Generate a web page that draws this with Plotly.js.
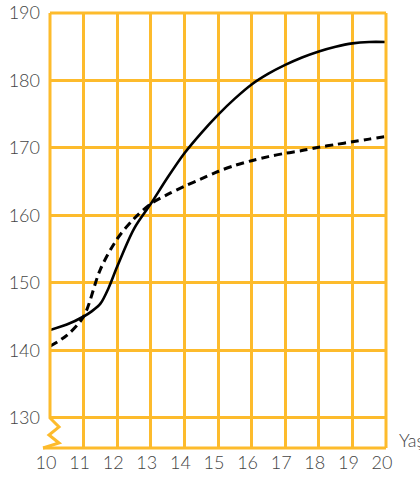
<!DOCTYPE html>
<html>
<head>
<meta charset="utf-8">
<script src="https://cdn.plot.ly/plotly-3.0.1.min.js"></script>
<style>html,body{margin:0;padding:0;background:#fff;}#chart{width:420px;height:479px;}</style>
</head>
<body>
<div id="chart"></div>
<script>
const solidAges = [10,10.5,11,11.25,11.5,11.75,12,12.5,13,13.5,14,14.5,15,15.5,16,16.5,17,17.5,18,18.5,19,19.5,20];
const solidSeries = [143.0,143.8,145.0,145.8,146.9,149.3,152.4,158.0,161.7,165.6,169.2,172.2,174.9,177.3,179.4,181.0,182.3,183.4,184.3,185.0,185.5,185.7,185.7];
const dashedAges = [10,10.5,11,11.5,12,12.5,13,13.5,14,14.5,15,15.5,16,16.5,17,17.5,18,18.5,19,19.5,20];
const dashedSeries = [140.6,142.2,145.0,152.0,156.5,159.5,161.7,163.1,164.3,165.4,166.5,167.4,168.1,168.7,169.2,169.6,170.1,170.5,170.9,171.3,171.7];
const xTicks = [10,11,12,13,14,15,16,17,18,19,20];
const yTicks = [130,140,150,160,170,180,190];
const xAxisLabel = 'Yaş';

const grid = '#FDBB2C';
const font = {family: 'Lato, "Open Sans", sans-serif', size: 18, color: '#444444', weight: 300};

const data = [
  {x: dashedAges, y: dashedSeries, type: 'scatter', mode: 'lines',
   line: {color: '#000', width: 3, dash: '8px,5px', shape: 'spline', smoothing: 0.9}, hoverinfo: 'skip'},
  {x: solidAges, y: solidSeries, type: 'scatter', mode: 'lines',
   line: {color: '#000', width: 2.6, shape: 'spline', smoothing: 0.9}, hoverinfo: 'skip'}
];

const layout = {
  width: 420, height: 479,
  margin: {l: 50, r: 34, t: 13, b: 31},
  paper_bgcolor: '#fff', plot_bgcolor: '#fff',
  showlegend: false,
  font: font,
  xaxis: {range: [10, 20], tickvals: xTicks, ticktext: xTicks.map(String),
          showgrid: true, gridcolor: grid, gridwidth: 3, zeroline: false, showline: false,
          ticks: '', ticklabelshift: -4, ticklabelstandoff: 2, tickfont: font, fixedrange: true},
  yaxis: {range: [125.5, 190], tickvals: yTicks, ticktext: yTicks.map(String),
          showgrid: true, gridcolor: grid, gridwidth: 3, zeroline: false, showline: false,
          ticks: '', ticklabelstandoff: 9, tickfont: font, fixedrange: true},
  shapes: [
    {type: 'line', xref: 'paper', yref: 'paper', x0: 0, x1: 1, y0: 1, y1: 1, line: {color: grid, width: 3}},
    {type: 'line', xref: 'paper', yref: 'paper', x0: 1, x1: 1, y0: 0, y1: 1, line: {color: grid, width: 3}},
    {type: 'line', xref: 'paper', yref: 'paper', x0: -0.0208, x1: 1, y0: 0, y1: 0, line: {color: grid, width: 3}},
    {type: 'path', xref: 'paper', yref: 'paper',
     path: 'M 0 1 L 0 0.069 L 0.0268 0.0483 L -0.003 0.0299 L 0.0268 0.0115 L -0.0208 0',
     line: {color: grid, width: 3}}
  ],
  annotations: [
    {xref: 'paper', yref: 'paper', x: 1.033, y: 0.018, xanchor: 'left', yanchor: 'middle',
     text: xAxisLabel, showarrow: false, font: font}
  ]
};

Plotly.newPlot('chart', data, layout, {displayModeBar: false, staticPlot: true});
</script>
</body>
</html>
